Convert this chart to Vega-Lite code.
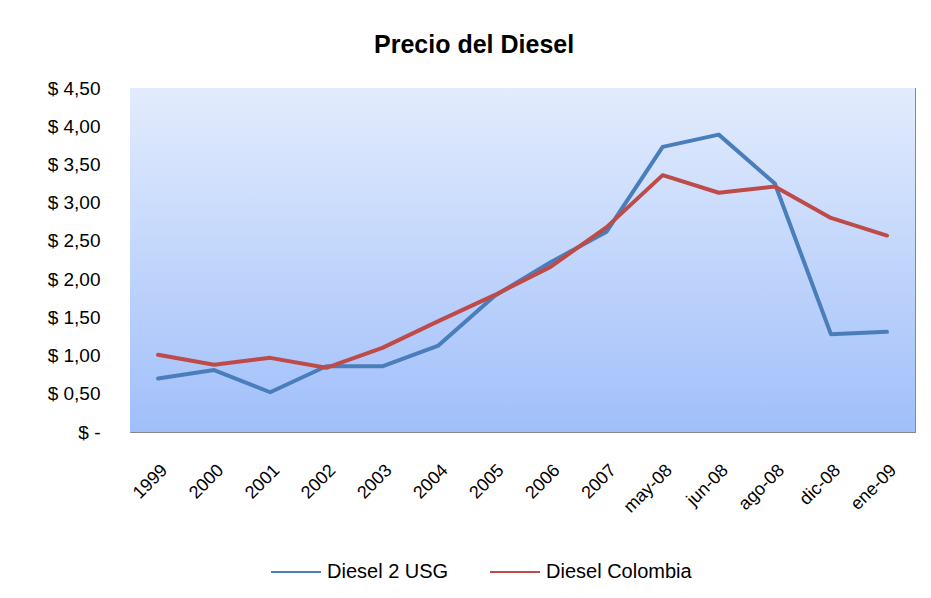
{
  "$schema": "https://vega.github.io/schema/vega-lite/v6.json",
  "width": 785,
  "height": 344,
  "padding": {"left": 47, "top": 33, "right": 12, "bottom": 0},
  "background": "white",
  "title": {
    "text": "Precio del Diesel",
    "font": "Liberation Sans",
    "fontSize": 25,
    "fontWeight": "bold",
    "color": "black",
    "anchor": "middle",
    "frame": "bounds",
    "offset": 21,
    "dx": -7
  },
  "config": {
    "view": {"stroke": "#6e8ebf", "strokeWidth": 1},
    "axis": {"labelFont": "Liberation Sans", "labelColor": "black"},
    "legend": {"labelFont": "Liberation Sans"}
  },
  "datasets": {
    "precios": [
      {"periodo": "1999", "serie": "Diesel 2 USG", "precio": 0.70},
      {"periodo": "2000", "serie": "Diesel 2 USG", "precio": 0.81},
      {"periodo": "2001", "serie": "Diesel 2 USG", "precio": 0.52},
      {"periodo": "2002", "serie": "Diesel 2 USG", "precio": 0.86},
      {"periodo": "2003", "serie": "Diesel 2 USG", "precio": 0.86},
      {"periodo": "2004", "serie": "Diesel 2 USG", "precio": 1.13},
      {"periodo": "2005", "serie": "Diesel 2 USG", "precio": 1.78},
      {"periodo": "2006", "serie": "Diesel 2 USG", "precio": 2.22},
      {"periodo": "2007", "serie": "Diesel 2 USG", "precio": 2.62},
      {"periodo": "may-08", "serie": "Diesel 2 USG", "precio": 3.73},
      {"periodo": "jun-08", "serie": "Diesel 2 USG", "precio": 3.89},
      {"periodo": "ago-08", "serie": "Diesel 2 USG", "precio": 3.25},
      {"periodo": "dic-08", "serie": "Diesel 2 USG", "precio": 1.28},
      {"periodo": "ene-09", "serie": "Diesel 2 USG", "precio": 1.31},
      {"periodo": "1999", "serie": "Diesel Colombia", "precio": 1.01},
      {"periodo": "2000", "serie": "Diesel Colombia", "precio": 0.88},
      {"periodo": "2001", "serie": "Diesel Colombia", "precio": 0.97},
      {"periodo": "2002", "serie": "Diesel Colombia", "precio": 0.84},
      {"periodo": "2003", "serie": "Diesel Colombia", "precio": 1.10},
      {"periodo": "2004", "serie": "Diesel Colombia", "precio": 1.45},
      {"periodo": "2005", "serie": "Diesel Colombia", "precio": 1.79},
      {"periodo": "2006", "serie": "Diesel Colombia", "precio": 2.16},
      {"periodo": "2007", "serie": "Diesel Colombia", "precio": 2.68},
      {"periodo": "may-08", "serie": "Diesel Colombia", "precio": 3.36},
      {"periodo": "jun-08", "serie": "Diesel Colombia", "precio": 3.13},
      {"periodo": "ago-08", "serie": "Diesel Colombia", "precio": 3.21},
      {"periodo": "dic-08", "serie": "Diesel Colombia", "precio": 2.80},
      {"periodo": "ene-09", "serie": "Diesel Colombia", "precio": 2.57}
    ],
    "fondo": [{"area": "plot"}]
  },
  "layer": [
    {
      "data": {"name": "fondo"},
      "mark": {
        "type": "rect",
        "color": {
          "gradient": "linear",
          "x1": 0, "y1": 0, "x2": 0, "y2": 1,
          "stops": [
            {"offset": 0, "color": "#e3ecfd"},
            {"offset": 1, "color": "#a0bffa"}
          ]
        }
      },
      "encoding": {}
    },
    {
      "data": {"name": "precios"},
      "mark": {"type": "line", "strokeWidth": 4, "strokeCap": "round", "strokeJoin": "round"},
      "encoding": {
        "x": {
          "field": "periodo",
          "type": "ordinal",
          "sort": ["1999","2000","2001","2002","2003","2004","2005","2006","2007","may-08","jun-08","ago-08","dic-08","ene-09"],
          "scale": {"type": "point", "padding": 0.5},
          "axis": {
            "title": null,
            "labelAngle": -45,
            "labelFontSize": 18,
            "labelPadding": 29,
            "ticks": false,
            "domain": false,
            "grid": false
          }
        },
        "y": {
          "field": "precio",
          "type": "quantitative",
          "scale": {"domain": [0, 4.5], "nice": false, "zero": true},
          "axis": {
            "title": null,
            "values": [0, 0.5, 1, 1.5, 2, 2.5, 3, 3.5, 4, 4.5],
            "labelExpr": "datum.value == 0 ? '$ -' : '$ ' + replace(format(datum.value, '.2f'), '.', ',')",
            "labelFontSize": 19,
            "labelPadding": 30,
            "ticks": false,
            "domain": false,
            "grid": true,
            "gridColor": "#868686",
            "gridOpacity": 1,
            "gridWidth": {"expr": "datum.value == 1 ? 2 : 1"},
            "encode": {
              "labels": {
                "enter": {"dx": {"signal": "datum.value === 0 ? -23 : 0"}},
                "update": {"dx": {"signal": "datum.value === 0 ? -23 : 0"}}
              }
            }
          }
        },
        "color": {
          "field": "serie",
          "type": "nominal",
          "scale": {"domain": ["Diesel 2 USG", "Diesel Colombia"], "range": ["#4a7ebb", "#be4b48"]},
          "legend": {
            "title": null,
            "orient": "none",
            "legendX": 140,
            "legendY": 458,
            "direction": "horizontal",
            "symbolType": "stroke",
            "symbolSize": 2500,
            "symbolStrokeWidth": 2,
            "labelFontSize": 20,
            "labelOffset": 5,
            "columnPadding": 37
          }
        }
      }
    }
  ]
}
